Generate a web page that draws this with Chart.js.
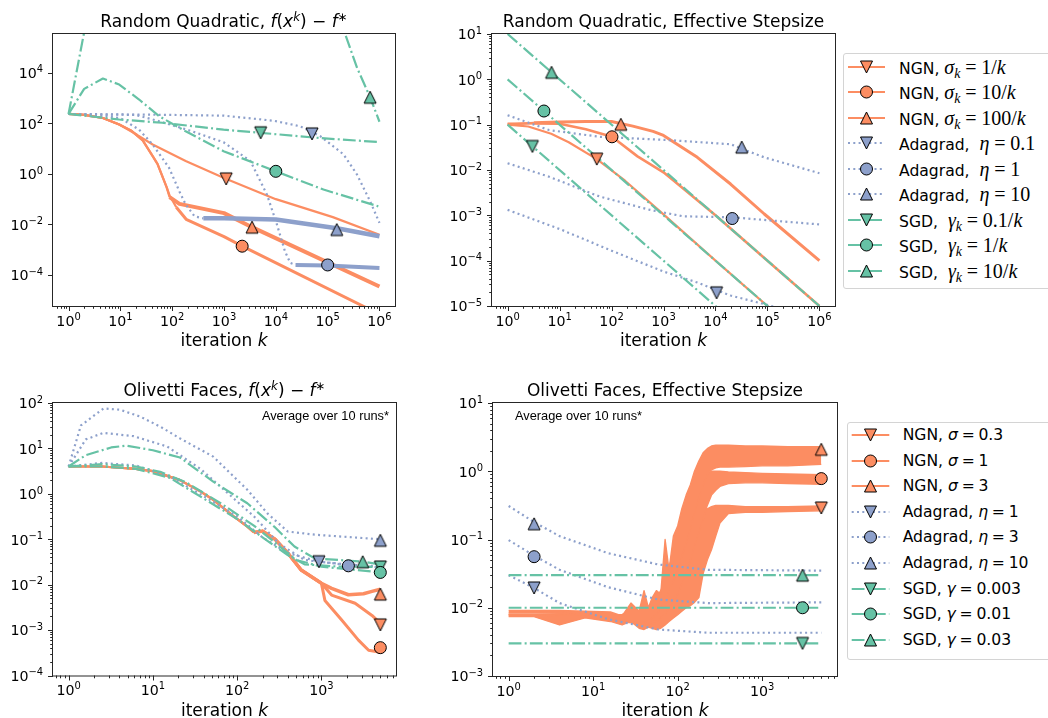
<!DOCTYPE html>
<html>
<head>
<meta charset="utf-8">
<script src="https://cdn.jsdelivr.net/npm/chart.js@4.4.1/dist/chart.umd.min.js"></script>
<style>
  html, body { margin: 0; padding: 0; background: #fff; }
  body { position: relative; width: 1048px; height: 718px; overflow: hidden; font-family: "DejaVu Sans", sans-serif; }
  canvas { position: absolute; }
  .legend { position: absolute; width: 240px; border: 1px solid #d4d4d4; border-radius: 3px; background: #fff; }
  .legend .row { position: absolute; left: 0; width: 240px; height: 20px; }
  .legend svg { position: absolute; left: 0; top: 0; }
  .legend .lbl { position: absolute; top: 0; white-space: nowrap; font-size: 15.6px; line-height: 20px; color: #000; }
  .serif { font-family: "Liberation Serif", serif; font-size: 20px; }
  .serif sub { font-size: 0.7em; vertical-align: -0.3em; line-height: 0; }
  .eq { margin: 0 0.24em; }
</style>
</head>
<body>
<canvas id="tl" width="410" height="350" style="left:0;top:0"></canvas>
<canvas id="tr" width="425" height="350" style="left:420px;top:0"></canvas>
<canvas id="bl" width="410" height="358" style="left:0;top:360px"></canvas>
<canvas id="br" width="425" height="358" style="left:420px;top:360px"></canvas>
<div class="legend" id="legTop" style="left:843px;top:53px;height:234px"></div>
<div class="legend" id="legBot" style="left:847px;top:422px;height:236px"></div>
<script>
// ---- Random Quadratic, f(x^k) - f*   (points are [k, value])
const tlNgnA = [[1,234],[2,214],[4.6,162],[9.5,89],[21,35],[42,14.5],[182,3.2],[1000,0.69],[1e4,0.1],[1.26e5,0.0195],[1e6,0.0039]];
const tlNgnB = [[1,234],[2,214],[4.6,162],[9.5,89],[16,52],[27,21],[42,5],[52,2.5],[78,0.3],[89,0.14],[120,0.048],[186,0.016],[1000,0.0033],[2240,0.00138],[4.9e5,5.8e-6],[1e6,2.8e-6]];
const tlNgnC = [[1,234],[2,214],[4.6,162],[9.5,89],[16,52],[27,21],[42,5],[52,2.5],[78,0.3],[89,0.12],[138,0.065],[1000,0.028],[3470,0.0078],[1e6,3.5e-5]];
const tlAdaA = [[1,234],[10,224],[100,214],[1000,200],[9100,126],[2.95e4,76],[7.2e4,31],[2.04e5,5.8],[3.7e5,0.93],[6.6e5,0.083],[1e6,0.0115]];
const tlAdaB = [[1,234],[20,214],[56,120],[245,48],[980,17.8],[3240,3.2],[6760,0.15],[1.05e4,0.01],[1.5e4,8.7e-4],[1.9e4,3.0e-4],[2.4e4,2.5e-4],[1e5,2.4e-4],[1e6,1.9e-4]];
const tlAdaC = [[1,234],[4.6,200],[10,160],[23,56],[42,14.5],[87,1.74],[138,0.2],[182,0.062],[270,0.021],[400,0.0174],[1000,0.0174],[1e4,0.0158],[1.5e5,0.0071],[1e6,0.0034]];
const tlSgdA = [[1,234],[9.5,141],[65,105],[980,56],[5000,42],[7.2e4,26],[1e6,18]];
const tlSgdB = [[1,234],[2,2290],[4.6,5900],[9.5,3400],[23,870],[56,190],[182,48],[980,7.9],[1e4,1.26],[8.3e4,0.24],[9.5e5,0.052]];
const tlSgdC = [[1,234],[2,4e5],[3,3e7],[10,1e8],[1000,2e8],[1e5,2.5e7],[1.6e5,2e6],[2.2e5,3.2e5],[3.7e5,1.55e4],[6.6e5,1070],[1e6,115]];
const tlMarks = [[1100,0.63],[2240,0.00138],[3470,0.0078],[5e4,38],[1e5,2.5e-4],[1.5e5,0.0063],[5100,42],[1e4,1.26],[6.6e5,1070]];

// ---- Random Quadratic, effective stepsize
const trNgnA = [[1,0.1],[2.5,0.091],[6.9,0.063],[15,0.041],[52,0.0174],[182,0.0058],[1000,0.00105],[1e4,1e-4],[1e5,1e-5],[1e6,1e-6]];
const trNgnB = [[1,0.105],[3.2,0.107],[10,0.105],[32,0.079],[102,0.054],[316,0.02],[1000,0.0089],[1e4,1e-3],[1e5,1e-4],[1e6,1e-5]];
const trNgnC = [[1,0.1],[3.2,0.11],[10,0.115],[32,0.117],[100,0.117],[257,0.093],[630,0.071],[1000,0.058],[4470,0.019],[1.95e4,0.0049],[8.7e4,0.00107],[1e6,1e-4]];
const trAdaA = [[1,1.32e-3],[10,5e-4],[100,1.66e-4],[1000,5.75e-5],[4470,3.3e-5],[1.95e4,1.7e-5],[8.7e4,1.1e-5],[1e6,5e-6]];
const trAdaB = [[1,0.0141],[6.3,0.0071],[59,0.0026],[550,0.00132],[2400,0.00095],[1.95e4,0.00091],[1e6,0.00063]];
const trAdaC = [[1,0.162],[6.3,0.076],[59,0.054],[1150,0.046],[1.95e4,0.037],[5.4e4,0.0234],[8.7e4,0.019],[1e6,0.0085]];
const trSgdA = [[1,0.1],[1e6,1e-7]];
const trSgdB = [[1,1],[1e6,1e-6]];
const trSgdC = [[1,10],[1e6,1e-5]];
const trMarks = [[52,0.0174],[102,0.054],[151,0.102],[1.05e4,1.95e-5],[2.1e4,8.5e-4],[3.2e4,0.032],[3,0.033],[5,0.2],[7,1.43]];

// ---- Olivetti Faces, f(x^k) - f*
const blNgnA = [[1,4],[2.5,4],[6.3,3.55],[10,3.16],[21,2.0],[37,1.12],[52,0.74],[91,0.32],[132,0.19],[158,0.141],[200,0.151],[282,0.1],[398,0.05],[575,0.021],[1000,0.0107],[1320,0.0059],[2510,0.0039],[3980,0.0021],[5000,0.0014]];
const blNgnB = [[1,4],[2.5,4],[6.3,3.55],[10,3.16],[21,2.0],[37,1.12],[52,0.74],[91,0.32],[132,0.19],[158,0.141],[200,0.151],[282,0.1],[398,0.05],[575,0.021],[1000,0.0107],[1100,0.0045],[1740,0.00166],[2750,0.0006],[3630,0.00036],[4790,0.00033],[5000,0.00045]];
const blNgnC = [[1,4],[2.5,4],[6.3,3.55],[10,3.16],[21,2.0],[37,1.12],[52,0.74],[91,0.32],[132,0.19],[158,0.141],[200,0.151],[282,0.1],[398,0.05],[575,0.021],[1000,0.0107],[1320,0.0083],[2090,0.006],[3160,0.0063],[3980,0.0071],[5000,0.0079]];
const blAdaA = [[1,4],[2.5,4.8],[6.3,4.2],[16,2.4],[40,0.89],[100,0.32],[200,0.11],[398,0.05],[933,0.032],[2000,0.028],[5000,0.025]];
const blAdaB = [[1,4],[1.6,15.8],[2.6,22],[5.9,18.6],[14.8,11],[37,3.5],[79,1.0],[158,0.32],[316,0.079],[631,0.035],[2090,0.027],[5000,0.024]];
const blAdaC = [[1,4],[1.4,32],[2.6,76],[4.1,71],[7.1,50],[12.3,30],[21,16.6],[52,6.6],[132,1.23],[229,0.37],[398,0.148],[832,0.126],[5000,0.1]];
const blSgdA = [[1,4],[2.5,4.0],[6.3,3.55],[16,2.24],[40,0.79],[100,0.28],[200,0.11],[398,0.045],[631,0.028],[1580,0.025],[5000,0.0245]];
const blSgdB = [[1,4],[2.5,4.5],[6.3,4.0],[12.6,3.0],[25,1.78],[63,0.63],[158,0.2],[316,0.071],[501,0.035],[1000,0.025],[5000,0.0186]];
const blSgdC = [[1,4],[1.6,7.1],[3.2,10.5],[4.9,11.5],[10,9.1],[21,6.3],[52,1.86],[132,0.62],[275,0.19],[479,0.069],[832,0.038],[3160,0.032],[5000,0.028]];
const blMarks = [[5000,0.0013],[5000,0.00041],[5000,0.0062],[933,0.032],[2090,0.026],[5000,0.095],[5000,0.0245],[5000,0.0186],[3090,0.032]];

// ---- Olivetti Faces, effective stepsize (NGN drawn as low/high envelope of the noisy runs)
const brK = [1,2,4,8,16,22,28,35,40,45,50,56,63,71,79,89,100,112,126,141,158,178,200,224,251,282,316,398,631,1000,2000,5000];
const brNgnALo = [0.0074,0.0074,0.0056,0.0071,0.0063,0.0056,0.0063,0.005,0.0048,0.0052,0.005,0.0048,0.005,0.0056,0.0063,0.0071,0.0079,0.0089,0.01,0.0107,0.012,0.0141,0.0316,0.05,0.0708,0.112,0.174,0.24,0.25,0.25,0.257,0.263];
const brNgnAHi = [0.0078,0.0078,0.0078,0.0078,0.0076,0.0079,0.0089,0.0079,0.0089,0.0079,0.0089,0.01,0.0112,0.0141,0.0178,0.0224,0.0316,0.0447,0.063,0.089,0.126,0.178,0.24,0.282,0.302,0.316,0.316,0.316,0.302,0.302,0.302,0.309];
const brNgnBLo = [0.0079,0.0079,0.0076,0.0076,0.0068,0.0063,0.006,0.0056,0.0056,0.0056,0.0063,0.0063,0.0071,0.0079,0.01,0.0126,0.0158,0.0224,0.0316,0.05,0.079,0.126,0.2,0.316,0.447,0.525,0.6,0.66,0.676,0.676,0.66,0.646];
const brNgnBHi = [0.0081,0.0081,0.0081,0.0081,0.0079,0.0079,0.0089,0.0089,0.01,0.01,0.0112,0.0141,0.0178,0.0251,0.0398,0.063,0.1,0.158,0.25,0.355,0.5,0.66,0.79,0.91,1,1,1,0.977,0.955,0.93,0.91,0.89];
const brNgnCLo = [0.0085,0.0085,0.0083,0.0079,0.0071,0.0066,0.0063,0.006,0.006,0.0063,0.0071,0.0079,0.01,0.0126,0.0178,0.0251,0.0355,0.0562,0.089,0.141,0.25,0.398,0.63,0.89,1.05,1.12,1.15,1.15,1.17,1.2,1.2,1.26];
const brNgnCHi = [0.0091,0.0091,0.0091,0.0089,0.0087,0.0076,0.0117,0.0089,0.0178,0.01,0.0141,0.0178,0.0158,0.1,0.0355,0.112,0.158,0.282,0.447,0.63,1,1.41,1.86,2.14,2.34,2.4,2.4,2.4,2.34,2.34,2.29,2.29];
const brAdaA = [[1,0.03],[2,0.0195],[4,0.0117],[15,0.0068],[59,0.0048],[229,0.0043],[5000,0.0043]];
const brAdaB = [[1,0.098],[2,0.058],[4,0.036],[15,0.02],[59,0.0132],[229,0.0117],[5000,0.012]];
const brAdaC = [[1,0.31],[2,0.18],[4,0.112],[15,0.063],[59,0.043],[229,0.036],[5000,0.035]];
const brSgdA = [[1,0.003],[5000,0.003]];
const brSgdB = [[1,0.01],[5000,0.01]];
const brSgdC = [[1,0.03],[5000,0.03]];
const brMarks = [[5000,0.29],[5000,0.78],[5000,2.1],[2,0.0195],[2,0.056],[2,0.17],[3000,0.003],[3000,0.01],[3000,0.03]];

// tick decades
const tlXDec = [0,1,2,3,4,5,6], tlYDec = [-4,-2,0,2,4];
const trXDec = [0,1,2,3,4,5,6], trYDec = [-5,-4,-3,-2,-1,0,1];
const blXDec = [0,1,2,3], blYDec = [-4,-3,-2,-1,0,1,2];
const brXDec = [0,1,2,3], brYDec = [-3,-2,-1,0,1];

// legend labels
const EQ = '<span class="eq">=</span>';
const topLabels = [
  `NGN, <span class="serif"><i>σ</i><sub><i>k</i></sub>${EQ}1/<i>k</i></span>`,
  `NGN, <span class="serif"><i>σ</i><sub><i>k</i></sub>${EQ}10/<i>k</i></span>`,
  `NGN, <span class="serif"><i>σ</i><sub><i>k</i></sub>${EQ}100/<i>k</i></span>`,
  `Adagrad,&nbsp; <span class="serif"><i>η</i>${EQ}0.1</span>`,
  `Adagrad,&nbsp; <span class="serif"><i>η</i>${EQ}1</span>`,
  `Adagrad,&nbsp; <span class="serif"><i>η</i>${EQ}10</span>`,
  `SGD,&nbsp; <span class="serif"><i>γ</i><sub><i>k</i></sub>${EQ}0.1/<i>k</i></span>`,
  `SGD,&nbsp; <span class="serif"><i>γ</i><sub><i>k</i></sub>${EQ}1/<i>k</i></span>`,
  `SGD,&nbsp; <span class="serif"><i>γ</i><sub><i>k</i></sub>${EQ}10/<i>k</i></span>`
];
const botLabels = [
  `NGN, <i>σ</i>${EQ}0.3`, `NGN, <i>σ</i>${EQ}1`, `NGN, <i>σ</i>${EQ}3`,
  `Adagrad, <i>η</i>${EQ}1`, `Adagrad, <i>η</i>${EQ}3`, `Adagrad, <i>η</i>${EQ}10`,
  `SGD, <i>γ</i>${EQ}0.003`, `SGD, <i>γ</i>${EQ}0.01`, `SGD, <i>γ</i>${EQ}0.03`
];

const COLORS = { ngn: '#fc8d62', ada: '#8da0cb', sgd: '#66c2a5' };
const DASHES = { ngn: [], ada: [2, 3.3], sgd: [12.8, 3.2, 2, 3.2] };
const KINDS = ['ngn','ngn','ngn','ada','ada','ada','sgd','sgd','sgd'];
const SHAPES = ['down','circle','up'];
const TICK = 14.2;

function triImage(shape, color) {
  const c = document.createElement('canvas');
  c.width = 16; c.height = 16;
  const g = c.getContext('2d');
  g.fillStyle = color; g.strokeStyle = '#000'; g.lineWidth = 1;
  g.beginPath();
  if (shape === 'up') { g.moveTo(8, 2); g.lineTo(14, 14); g.lineTo(2, 14); }
  else { g.moveTo(2, 2); g.lineTo(14, 2); g.lineTo(8, 14); }
  g.closePath(); g.fill(); g.stroke();
  return c;
}

function lineSet(pts, i, kind, noisy, extra) {
  const ds = {
    data: pts.map(p => ({ x: p[0], y: p[1] })),
    borderColor: COLORS[kind], backgroundColor: COLORS[kind],
    borderWidth: 2.2, borderDash: DASHES[kind], borderJoinStyle: 'round',
    pointRadius: 0, fill: false, tension: 0, order: -i
  };
  if (noisy) ds.segment = {
    borderWidth: c => c.p0.parsed.x >= noisy[0] ? noisy[1] : undefined,
    borderDash: c => c.p0.parsed.x >= noisy[0] ? [] : undefined
  };
  return Object.assign(ds, extra || {});
}

function rich(ctx, segs, x, y, size, align, fam) {
  const family = fam || '"DejaVu Sans"';
  const parts = segs.map(([t, f = '']) => {
    const sup = f.includes('s');
    const font = (f.includes('i') ? 'italic ' : '') + (sup ? size * 0.7 : size) + 'px ' + family;
    ctx.font = font;
    return { t, font, sup, w: ctx.measureText(t).width };
  });
  const total = parts.reduce((s, p) => s + p.w, 0);
  let cx = align === 'center' ? x - total / 2 : align === 'right' ? x - total : x;
  ctx.textAlign = 'left'; ctx.textBaseline = 'alphabetic';
  for (const p of parts) {
    ctx.font = p.font;
    ctx.fillText(p.t, cx, p.sup ? y - size * 0.4 : y);
    cx += p.w;
  }
}

const expText = d => (d < 0 ? '\u2212' + (-d) : String(d));

function minorValues(s) {
  const out = [];
  for (let d = Math.floor(Math.log10(s.min)); d <= Math.ceil(Math.log10(s.max)); d++)
    for (let m = 2; m <= 9; m++) {
      const v = m * Math.pow(10, d);
      if (v >= s.min && v <= s.max) out.push(v);
    }
  return out;
}

function axesPlugin(o) {
  return {
    id: 'mplAxes',
    afterDraw(chart) {
      const ctx = chart.ctx, a = chart.chartArea, xs = chart.scales.x, ys = chart.scales.y;
      ctx.save();
      ctx.strokeStyle = '#262626'; ctx.lineWidth = 1;
      ctx.strokeRect(a.left - 0.5, a.top - 0.5, a.right - a.left + 1, a.bottom - a.top + 1);
      ctx.beginPath();
      for (const d of o.xDec) {
        const px = Math.round(xs.getPixelForValue(Math.pow(10, d))) + 0.5;
        ctx.moveTo(px, a.bottom); ctx.lineTo(px, a.bottom + 5);
      }
      for (const d of o.yDec) {
        const py = Math.round(ys.getPixelForValue(Math.pow(10, d))) + 0.5;
        ctx.moveTo(a.left, py); ctx.lineTo(a.left - 5, py);
      }
      for (const v of minorValues(xs)) {
        const px = Math.round(xs.getPixelForValue(v)) + 0.5;
        ctx.moveTo(px, a.bottom); ctx.lineTo(px, a.bottom + 2.8);
      }
      if (o.yMinor) for (const v of minorValues(ys)) {
        const py = Math.round(ys.getPixelForValue(v)) + 0.5;
        ctx.moveTo(a.left, py); ctx.lineTo(a.left - 2.8, py);
      }
      ctx.stroke();
      ctx.fillStyle = '#000';
      for (const d of o.xDec)
        rich(ctx, [['10'], [expText(d), 's']], xs.getPixelForValue(Math.pow(10, d)), a.bottom + 19.5, TICK, 'center');
      for (const d of o.yDec)
        rich(ctx, [['10'], [expText(d), 's']], a.left - 9.9, ys.getPixelForValue(Math.pow(10, d)) + 5.4, TICK, 'right');
      rich(ctx, o.title, (a.left + a.right) / 2, a.top - 6.6, 17, 'center');
      rich(ctx, [['iteration '], ['k', 'i']], (a.left + a.right) / 2, a.bottom + 40, 17, 'center');
      if (o.note) {
        ctx.font = '12.8px "Liberation Sans", Arial, sans-serif';
        ctx.textBaseline = 'alphabetic';
        ctx.textAlign = o.note === 'right' ? 'right' : 'left';
        ctx.fillText('Average over 10 runs*', o.note === 'right' ? a.right - 7 : a.left + 22, a.top + 17);
      }
      ctx.restore();
    }
  };
}

function plot(id, o) {
  const datasets = [];
  o.series.forEach((s, i) => {
    const kind = KINDS[i];
    if (s.lo) {
      datasets.push(lineSet(brK.map((k, j) => [k, s.lo[j]]), i, kind, null, { borderWidth: 1.4 }));
      datasets.push(lineSet(brK.map((k, j) => [k, s.hi[j]]), i, kind, null, { borderWidth: 1.4, fill: '-1' }));
    } else {
      datasets.push(lineSet(s, i, kind, o.noisy && o.noisy[i]));
    }
  });
  o.marks.forEach((m, i) => {
    const kind = KINDS[i], shape = SHAPES[i % 3];
    datasets.push({
      data: [{ x: m[0], y: m[1] }], showLine: false,
      pointRadius: 6, pointStyle: shape === 'circle' ? 'circle' : triImage(shape, COLORS[kind]),
      pointBackgroundColor: COLORS[kind], pointBorderColor: '#000', pointBorderWidth: 1,
      order: -100 - i
    });
  });
  new Chart(document.getElementById(id), {
    type: 'line',
    data: { datasets },
    options: {
      responsive: false, animation: false, devicePixelRatio: 1, events: [],
      layout: { padding: o.pad },
      plugins: { legend: { display: false }, tooltip: { enabled: false } },
      scales: {
        x: { type: 'logarithmic', display: false, bounds: 'data', min: o.x[0], max: o.x[1] },
        y: { type: 'logarithmic', display: false, bounds: 'data', min: o.y[0], max: o.y[1] }
      }
    },
    plugins: [axesPlugin(o)]
  });
}

const titleF = name => [[name], ['f', 'i'], ['('], ['x', 'i'], ['k', 'is'], [')'], [' \u2212 '], ['f', 'i'], ['\u2217', 's']];

plot('tl', {
  series: [tlNgnA, tlNgnB, tlNgnC, tlAdaA, tlAdaB, tlAdaC, tlSgdA, tlSgdB, tlSgdC],
  marks: tlMarks,
  noisy: { 1: [120, 3], 2: [89, 4], 4: [2.4e4, 4], 5: [400, 4.5] },
  pad: { left: 53, top: 34, right: 15, bottom: 44 },
  x: [0.501, 1.995e6], y: [5.96e-6, 3.39e5],
  xDec: tlXDec, yDec: tlYDec, yMinor: false,
  title: titleF('Random Quadratic, ')
});
plot('tr', {
  series: [trNgnA, trNgnB, trNgnC, trAdaA, trAdaB, trAdaC, trSgdA, trSgdB, trSgdC],
  marks: trMarks,
  noisy: { 1: [3, 2.6], 2: [3, 3] },
  pad: { left: 72, top: 34, right: 10, bottom: 44 },
  x: [0.501, 1.995e6], y: [1e-5, 10],
  xDec: trXDec, yDec: trYDec, yMinor: true,
  title: [['Random Quadratic, Effective Stepsize']]
});
plot('bl', {
  series: [blNgnA, blNgnB, blNgnC, blAdaA, blAdaB, blAdaC, blSgdA, blSgdB, blSgdC],
  marks: blMarks,
  noisy: { 0: [150, 3], 1: [150, 3], 2: [150, 3.5] },
  pad: { left: 53, top: 43, right: 14, bottom: 42.5 },
  x: [0.653, 7674], y: [1e-4, 100],
  xDec: blXDec, yDec: blYDec, yMinor: true,
  title: titleF('Olivetti Faces, '), note: 'right'
});
plot('br', {
  series: [{ lo: brNgnALo, hi: brNgnAHi }, { lo: brNgnBLo, hi: brNgnBHi }, { lo: brNgnCLo, hi: brNgnCHi },
           brAdaA, brAdaB, brAdaC, brSgdA, brSgdB, brSgdC],
  marks: brMarks,
  pad: { left: 73, top: 43, right: 8, bottom: 42 },
  x: [0.653, 7674], y: [1e-3, 10],
  xDec: brXDec, yDec: brYDec, yMinor: true,
  title: [['Olivetti Faces, Effective Stepsize']], note: 'left'
});

function handleSvg(kind, shape, x0, x1, xm) {
  const col = COLORS[kind];
  const dash = DASHES[kind].length ? ` stroke-dasharray="${DASHES[kind].join(' ')}"` : '';
  let mk;
  if (shape === 'circle') mk = `<circle cx="${xm}" cy="10" r="6" fill="${col}" stroke="#000" stroke-width="1"/>`;
  else if (shape === 'up') mk = `<polygon points="${xm},4 ${xm + 6},16 ${xm - 6},16" fill="${col}" stroke="#000" stroke-width="1"/>`;
  else mk = `<polygon points="${xm - 6},4 ${xm + 6},4 ${xm},16" fill="${col}" stroke="#000" stroke-width="1"/>`;
  return `<svg width="60" height="20"><line x1="${x0}" y1="10" x2="${x1}" y2="10" stroke="${col}" stroke-width="2.2"${dash}/>${mk}</svg>`;
}

function legend(id, labels, L) {
  const box = document.getElementById(id);
  labels.forEach((html, i) => {
    const row = document.createElement('div');
    row.className = 'row';
    row.style.top = (L.first + i * L.step - 10) + 'px';
    row.innerHTML = handleSvg(KINDS[i], SHAPES[i % 3], L.x0, L.x1, L.xm) +
      `<span class="lbl" style="left:${L.text}px">${html}</span>`;
    box.appendChild(row);
  });
}
legend('legTop', topLabels, { first: 12.7, step: 25.5, x0: 4, x1: 41, xm: 22.5, text: 55 });
legend('legBot', botLabels, { first: 12, step: 25.6, x0: 3.7, x1: 41.3, xm: 22.5, text: 54.7 });
</script>
</body>
</html>
